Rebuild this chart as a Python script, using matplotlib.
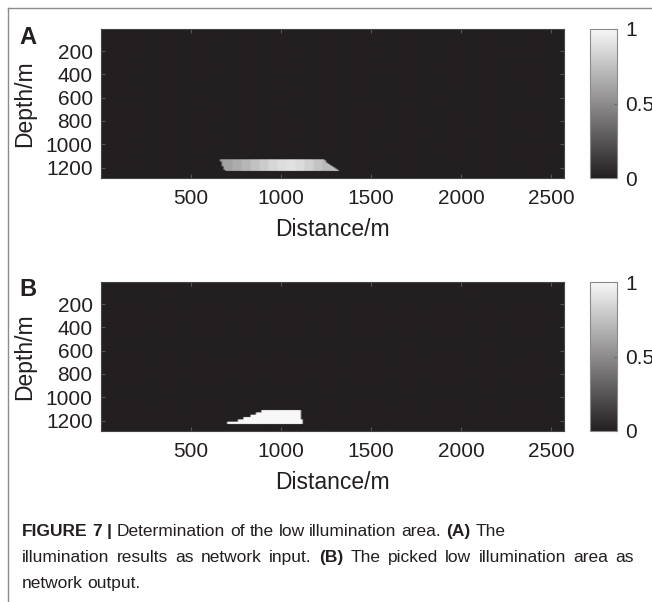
import numpy as np
import matplotlib
matplotlib.use("Agg")
import matplotlib.pyplot as plt
from matplotlib.colors import LinearSegmentedColormap
from matplotlib.lines import Line2D

plt.rcParams['font.family'] = ['Liberation Sans', 'DejaVu Sans']

# model grid
x_max = 2570
z_top, z_bot = 10, 1290
cell = 10

xticks = [500, 1000, 1500, 2000, 2500]
yticks = [200, 400, 600, 800, 1000, 1200]

# (A) illumination result: low illumination band (depth rows and lateral extent)
a_row_top = [1130, 1140, 1150, 1160, 1170, 1180, 1190, 1200, 1210, 1220]
a_row_bot = [1140, 1150, 1160, 1170, 1180, 1190, 1200, 1210, 1220, 1230]
a_x_start = [663, 665, 668, 670, 673, 675, 678, 680, 683, 686]
a_x_end = [1238, 1245, 1252, 1260, 1268, 1277, 1287, 1297, 1308, 1320]
# illumination values across the band
a_prof_x = [650, 700, 750, 800, 850, 900, 950, 1000, 1050, 1100, 1150, 1200, 1250, 1300, 1350]
a_prof_v = [0.58, 0.61, 0.65, 0.70, 0.75, 0.80, 0.85, 0.88, 0.90, 0.87, 0.82, 0.76, 0.72, 0.74, 0.76]

# (B) picked low illumination area (binary)
b_row_top = [1110, 1130, 1150, 1170, 1190, 1210]
b_row_bot = [1130, 1150, 1170, 1190, 1210, 1235]
b_x_start = [895, 860, 830, 790, 760, 705]
b_x_end = [1110, 1110, 1112, 1112, 1115, 1117]


def build(tops, bots, x0s, x1s, prof_x=None, prof_v=None):
    xs = np.arange(0, x_max, cell) + cell / 2
    zs = np.arange(z_top, z_bot, cell) + cell / 2
    img = np.zeros((len(zs), len(xs)))
    for t, b, x0, x1 in zip(tops, bots, x0s, x1s):
        rows = (zs >= t) & (zs < b)
        cols = (xs >= x0) & (xs <= x1)
        if prof_v is None:
            vals = 1.0
        else:
            idx = np.abs(xs[cols][:, None] - np.array(prof_x)[None, :]).argmin(1)
            vals = np.array(prof_v)[idx]
        img[np.ix_(rows, cols)] = vals
    return img


img_a = build(a_row_top, a_row_bot, a_x_start, a_x_end, a_prof_x, a_prof_v)
img_b = build(b_row_top, b_row_bot, b_x_start, b_x_end)

cmap = LinearSegmentedColormap.from_list('pgray', ['#231f20', '#f7f7f7'])
txt_col = '#231f20'

W, H = 652, 602
fig = plt.figure(figsize=(W / 100, H / 100), dpi=100)


def panel(img, top_px, label):
    h = 149
    ax = fig.add_axes([101 / W, 1 - (top_px + h) / H, 463 / W, h / H])
    im = ax.imshow(img, extent=[0, x_max, z_bot, z_top], aspect='auto', cmap=cmap,
                   vmin=0, vmax=1, interpolation='bilinear')
    ax.set_xticks(xticks)
    ax.set_yticks(yticks)
    ax.tick_params(direction='in', top=True, right=True, length=3, color='#555555',
                   labelsize=15, labelcolor=txt_col)
    ax.tick_params(axis='x', pad=8)
    ax.tick_params(axis='y', pad=6)
    for s in ax.spines.values():
        s.set_color('#444444')
    ax.set_xlabel('Distance/m', fontsize=16.5, color=txt_col, labelpad=7)
    ax.set_ylabel('Depth/m', fontsize=16.5, color=txt_col, labelpad=7)

    cax = fig.add_axes([590 / W, 1 - (top_px + h) / H, 27 / W, h / H])
    cb = fig.colorbar(im, cax=cax, ticks=[0, 0.5, 1])
    cb.ax.set_yticklabels(['0', '0.5', '1'])
    cb.outline.set_edgecolor('#8a8a8a')
    cax.tick_params(length=2, direction='in', color='#666666', labelsize=15,
                    labelcolor=txt_col, pad=6)

    fig.text(19 / W, 1 - (top_px + 8) / H, label, fontsize=17, fontweight='bold',
             color=txt_col, va='center', ha='left')


panel(img_a, 29, 'A')
panel(img_b, 282, 'B')

# page frame lines
fig.add_artist(Line2D([8 / W, 1], [1 - 8 / H, 1 - 8 / H], transform=fig.transFigure,
                      color='#8c8c8c', lw=1))
fig.add_artist(Line2D([8 / W, 8 / W], [0, 1 - 8 / H], transform=fig.transFigure,
                      color='#8c8c8c', lw=1))

# caption with bold runs
renderer = fig.canvas.get_renderer()
cap_size = 12.5


def words_of(parts):
    out = []
    for txt, bold in parts:
        for w in txt.split():
            out.append((w, bold))
    return out


def rich_line(x_px, y_px, parts, justify_to=None):
    # y_px is the baseline position
    words = words_of(parts)
    arts, widths = [], []
    for w, bold in words:
        t = fig.text(0, 1 - y_px / H, w, fontsize=cap_size,
                     fontweight='bold' if bold else 'normal',
                     color=txt_col, va='baseline', ha='left')
        arts.append(t)
        widths.append(t.get_window_extent(renderer=renderer).width)
    probe = fig.text(0, 0, 'a a', fontsize=cap_size)
    probe2 = fig.text(0, 0, 'aa', fontsize=cap_size)
    space = (probe.get_window_extent(renderer=renderer).width
             - probe2.get_window_extent(renderer=renderer).width)
    probe.remove()
    probe2.remove()
    if justify_to is not None:
        space = (justify_to - x_px - sum(widths)) / (len(words) - 1)
    x = x_px
    for t, wd in zip(arts, widths):
        t.set_x(x / W)
        x += wd + space


rich_line(22, 536, [('FIGURE 7 |', True), ('Determination of the low illumination area.', False),
                    ('(A)', True), ('The', False)])
rich_line(22, 562, [('illumination results as network input.', False), ('(B)', True),
                    ('The picked low illumination area as', False)], justify_to=634)
rich_line(22, 588, [('network output.', False)])

fig.savefig('out.png', dpi=100)
